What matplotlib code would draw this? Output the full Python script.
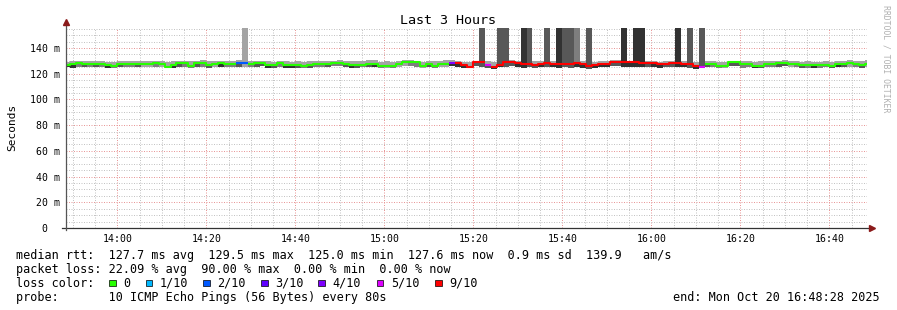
import numpy as np
import pandas as pd
import matplotlib
matplotlib.use("Agg")
import matplotlib.pyplot as plt
import matplotlib.dates as mdates
from matplotlib.patches import Rectangle

# smokeping "Last 3 Hours" graph, 80 s steps
first_step = "2025-10-20 13:47:57"
view_start = "2025-10-20 13:48:28"
view_end = "2025-10-20 16:48:28"
step_seconds = 80

median_ms = [
    127.2, 127.4, 128.0, 127.6, 127.6, 127.8, 127.6, 127.2, 126.0, 127.6, 127.8, 127.8, 127.4, 127.6,
    127.6, 128.6, 127.4, 125.4, 127.0, 128.0, 128.0, 126.2, 128.0, 128.0, 127.2, 127.6, 128.0, 127.6,
    127.6, 128.2, 128.2, 127.6, 128.6, 128.6, 127.2, 127.0, 128.6, 127.0, 126.8, 126.8, 126.4, 126.6,
    127.4, 127.6, 127.8, 128.4, 128.6, 127.4, 126.8, 127.0, 127.2, 127.6, 127.8, 125.8, 125.8,
    126.4, 127.6, 128.8, 128.8, 128.8, 126.4, 127.4, 126.2, 127.8, 127.8, 128.4, 128.4, 126.6, 125.6,
    129.0, 129.0, 126.6, 125.4, 127.2, 128.8, 128.8, 128.2, 127.8, 127.8, 127.2, 127.4, 128.6,
    127.8, 127.4, 127.4, 127.4, 128.2, 127.4, 125.8, 126.8, 127.6, 127.8, 129.0, 129.0, 129.0,
    128.8, 128.8, 128.6, 128.4, 128.0, 127.6, 127.8, 128.6, 128.4, 127.8, 127.4, 125.8, 125.6,
    127.8, 127.4, 126.0, 126.0, 129.0, 129.0, 127.4, 127.4, 126.4, 126.4, 127.6, 127.6, 128.2, 128.2,
    127.6, 127.6, 126.8, 126.8, 126.6, 126.6, 127.2, 125.8, 127.4, 127.4, 128.0, 127.6, 127.0, 127.6,
]

smoke_hi_ms = [
    129.4, 129.6, 129.8, 130.2, 129.8, 129.6, 129.8, 129.4, 129.2, 129.8, 130.0, 129.8, 129.6, 130.2,
    130.0, 130.2, 129.8, 129.4, 129.6, 130.0, 130.2, 129.6, 130.0, 130.4, 130.0, 129.8, 130.2, 129.8,
    129.8, 130.6, 130.4, 129.8, 130.0, 130.2, 129.6, 129.4, 130.2, 129.6, 129.4, 129.6, 129.4, 129.6,
    129.8, 130.0, 130.0, 130.2, 130.4, 129.8, 129.6, 129.8, 130.0, 130.4, 130.6, 129.2, 129.6,
    129.2, 129.8, 130.4, 130.6, 130.2, 129.4, 129.8, 129.6, 130.2, 130.6, 130.8, 130.2, 129.4, 129.0,
    130.2, 130.4, 129.6, 128.8, 129.8, 130.2, 130.4, 130.0, 129.8, 130.0, 129.6, 129.8, 130.2,
    130.0, 129.8, 129.6, 129.8, 130.2, 129.8, 129.0, 129.4, 129.8, 130.0, 130.4, 130.4, 130.2,
    130.2, 130.0, 130.0, 129.8, 129.6, 129.4, 129.6, 130.0, 130.2, 129.8, 129.6, 129.2, 128.8,
    130.2, 129.6, 129.0, 129.2, 130.2, 130.0, 129.6, 129.8, 129.4, 129.6, 129.8, 130.0, 130.2, 130.4,
    129.8, 130.0, 129.4, 129.6, 129.4, 129.2, 129.6, 129.0, 129.8, 130.0, 130.4, 130.2, 129.8, 130.8,
]

smoke_lo_ms = [
    125.0, 124.8, 125.4, 125.6, 125.2, 125.4, 125.0, 124.6, 124.4, 125.0, 125.4, 125.6, 125.2, 125.0,
    125.4, 125.6, 125.0, 124.2, 124.8, 125.4, 125.6, 124.6, 125.2, 125.6, 124.8, 125.0, 125.4, 125.2,
    125.0, 125.6, 125.4, 125.2, 125.6, 125.8, 124.8, 124.4, 125.6, 124.8, 124.6, 124.8, 124.4, 124.6,
    125.0, 125.2, 125.4, 125.8, 126.0, 125.0, 124.6, 124.8, 125.0, 125.2, 125.4, 124.2, 124.4,
    124.6, 125.0, 125.8, 126.0, 125.6, 124.6, 125.0, 124.4, 125.2, 125.6, 125.8, 125.2, 124.6, 124.2,
    125.8, 125.6, 124.8, 124.0, 125.0, 125.6, 125.8, 125.2, 124.8, 125.2, 124.6, 125.0, 125.4,
    125.2, 124.8, 125.0, 124.8, 125.6, 124.8, 124.0, 124.6, 125.0, 125.2, 125.8, 125.8, 125.6,
    125.4, 125.6, 125.4, 125.2, 125.0, 124.8, 125.0, 125.6, 125.4, 125.0, 124.8, 124.0, 124.2,
    125.4, 125.0, 124.4, 124.6, 126.0, 125.8, 124.8, 125.0, 124.6, 124.8, 125.2, 125.0, 125.6, 125.8,
    125.0, 125.2, 124.8, 124.6, 124.4, 124.6, 125.0, 124.2, 125.0, 125.2, 125.4, 125.2, 124.6, 125.4,
]

# darkest smoke band seen under the median (smokeping band 2..5)
smoke_core = [
    5, 5, 3, 4, 3, 4, 3, 5, 3, 4, 3, 3, 4, 2, 2, 3, 2, 2, 5, 4, 3, 3, 4, 3, 4, 2, 5, 3,
    3, 4, 2, 3, 4, 4, 5, 4, 3, 5, 5, 4, 3, 4, 3, 3, 4, 3, 3, 4, 5, 4, 3, 4, 5, 3, 2,
    3, 2, 2, 3, 3, 2, 4, 3, 2, 2, 5, 5, 5, 5, 4, 4, 4, 5, 5, 4, 4, 5, 5, 4, 4, 5, 4,
    5, 5, 4, 4, 5, 5, 4, 5, 5, 5, 4, 4, 5, 5, 5, 5, 4, 5, 5, 4, 4, 5, 5, 4, 5, 4,
    4, 3, 3, 2, 4, 4, 3, 3, 5, 4, 3, 3, 4, 4, 2, 3, 4, 3, 5, 3, 3, 4, 5, 4, 2, 3, 4, 2,
]

# (number of steps, lost pings out of 10)
loss_runs = [(29, 0), (2, 2), (34, 0), (1, 4), (5, 9), (1, 5), (35, 9), (1, 5), (28, 0)]

# steps where pings went off the top of the graph, and which smoke band reaches up
spike_steps = [30, 70, 73, 74, 77, 78, 81, 83, 84, 85, 86, 88, 94, 96, 97, 103, 105, 107]
spike_band = [2, 4, 4, 4, 5, 4, 4, 5, 4, 4, 3, 4, 5, 5, 5, 5, 4, 4]

loss_counts = [0, 1, 2, 3, 4, 5, 9]
loss_labels = ["0", "1/10", "2/10", "3/10", "4/10", "5/10", "9/10"]
loss_colors = ["#26ff00", "#00b8ff", "#0059ff", "#5e00ff", "#7e00ff", "#dd00ff", "#ff0000"]

y_max = 155.6
y_ticks = [0, 20, 40, 60, 80, 100, 120, 140]
y_labels = ["0  ", "20 m", "40 m", "60 m", "80 m", "100 m", "120 m", "140 m"]

stat_lines = [
    "median rtt:  127.7 ms avg  129.5 ms max  125.0 ms min  127.6 ms now  0.9 ms sd  139.9   am/s",
    "packet loss: 22.09 % avg  90.00 % max  0.00 % min  0.00 % now",
    "loss color:",
    "probe:       10 ICMP Echo Pings (56 Bytes) every 80s",
]
end_text = "end: Mon Oct 20 16:48:28 2025"

band_gray = {2: "#a4a4a4", 3: "#7e7e7e", 4: "#585858", 5: "#323232"}

W, H = 897, 310
MONO = "DejaVu Sans Mono"


def px(x, y):
    return x / W, 1 - y / H


median = np.array(median_ms)
hi = np.array(smoke_hi_ms)
lo = np.array(smoke_lo_ms)
n = len(median)
assert len(hi) == n and len(lo) == n and len(smoke_core) == n
loss = np.repeat([l for _, l in loss_runs], [c for c, _ in loss_runs])
assert len(loss) == n

edges = pd.date_range(first_step, periods=n + 1, freq=f"{step_seconds}s")
xe = mdates.date2num(edges.to_pydatetime())
width = xe[1] - xe[0]

fig = plt.figure(figsize=(W / 100, H / 100), dpi=100)
ax = fig.add_axes([66 / W, 82 / H, 801 / W, 200 / H])

# smoke
ax.bar(xe[:-1], hi - lo, bottom=lo, width=width, align="edge",
       color="#a4a4a4", linewidth=0, zorder=2)
core_cols = [band_gray[b] for b in smoke_core]
ax.bar(xe[:-1], median - lo, bottom=lo, width=width, align="edge",
       color=core_cols, linewidth=0, zorder=3)
ax.bar(xe[spike_steps], 1000, bottom=median[spike_steps], width=width, align="edge",
       color=[band_gray[b] for b in spike_band], linewidth=0, zorder=3)

# median line coloured by loss
for cnt, col in zip(loss_counts, loss_colors):
    y = np.where(loss == cnt, median, np.nan)
    if np.all(np.isnan(y)):
        continue
    ax.plot(xe, np.append(y, y[-1]), drawstyle="steps-post", color=col,
            lw=1.5, solid_capstyle="butt", zorder=5)

ax.set_xlim(mdates.date2num(pd.Timestamp(view_start)), mdates.date2num(pd.Timestamp(view_end)))
ax.set_ylim(0, y_max)

ax.xaxis.set_major_locator(mdates.MinuteLocator(byminute=[0, 20, 40]))
ax.xaxis.set_minor_locator(mdates.MinuteLocator(byminute=range(0, 60, 5)))
ax.xaxis.set_major_formatter(mdates.DateFormatter("%H:%M"))
ax.set_yticks(y_ticks)
ax.set_yticklabels(y_labels)
ax.set_yticks(np.arange(5, y_max, 5), minor=True)

ax.set_axisbelow(True)
ax.grid(which="minor", color="#c4c4c4", lw=0.72, linestyle=(0, (1, 1.5)))
ax.grid(which="major", color="#e89898", lw=0.72, linestyle=(0, (1, 1.5)))

ax.tick_params(which="both", length=0, labelsize=7.1, labelfontfamily=MONO)
ax.tick_params(axis="y", pad=4.3)
ax.tick_params(axis="x", pad=4.0)
for s in ax.spines.values():
    s.set_visible(False)

# axes with arrows, like rrdtool
ax.plot([-0.005, 1.004], [0, 0], transform=ax.transAxes, color="#333333", lw=0.9,
        clip_on=False, zorder=6)
ax.plot([0, 0], [-0.012, 1.02], transform=ax.transAxes, color="#555555", lw=0.9,
        clip_on=False, zorder=6)
ax.plot([1.006], [0], transform=ax.transAxes, marker=">", ms=4, color="#8b1a1a",
        clip_on=False, zorder=7)
ax.plot([0], [1.03], transform=ax.transAxes, marker="^", ms=4, color="#8b1a1a",
        clip_on=False, zorder=7)

fig.text(*px(448, 24), "Last 3 Hours", ha="center", va="baseline", family=MONO, size=9.6)
fig.text(*px(12, 127), "Seconds", ha="center", va="center", rotation=90, family=MONO, size=8)
fig.text(*px(886, 5), "RRDTOOL / TOBI OETIKER", ha="center", va="top", rotation=270,
         family=MONO, size=5.9, color="#b0b0b0")

baselines = [259.5, 273.2, 286.9, 300.6]
for line, yb in zip(stat_lines, baselines):
    fig.text(*px(16, yb), line, ha="left", va="baseline", family=MONO, size=8.5)
fig.text(*px(880, baselines[3]), end_text, ha="right", va="baseline", family=MONO, size=8.5)

box_x = [109, 145.7, 203.3, 261, 318.3, 376.7, 435]
for bx, lab, col in zip(box_x, loss_labels, loss_colors):
    fig.add_artist(Rectangle(px(bx, 286.3), 6.6 / W, 6.6 / H, transform=fig.transFigure,
                             facecolor=col, edgecolor="black", lw=0.5))
    fig.text(*px(bx + 14.2, baselines[2]), lab, ha="left", va="baseline", family=MONO, size=8.5)

fig.savefig("out.png", dpi=100)
